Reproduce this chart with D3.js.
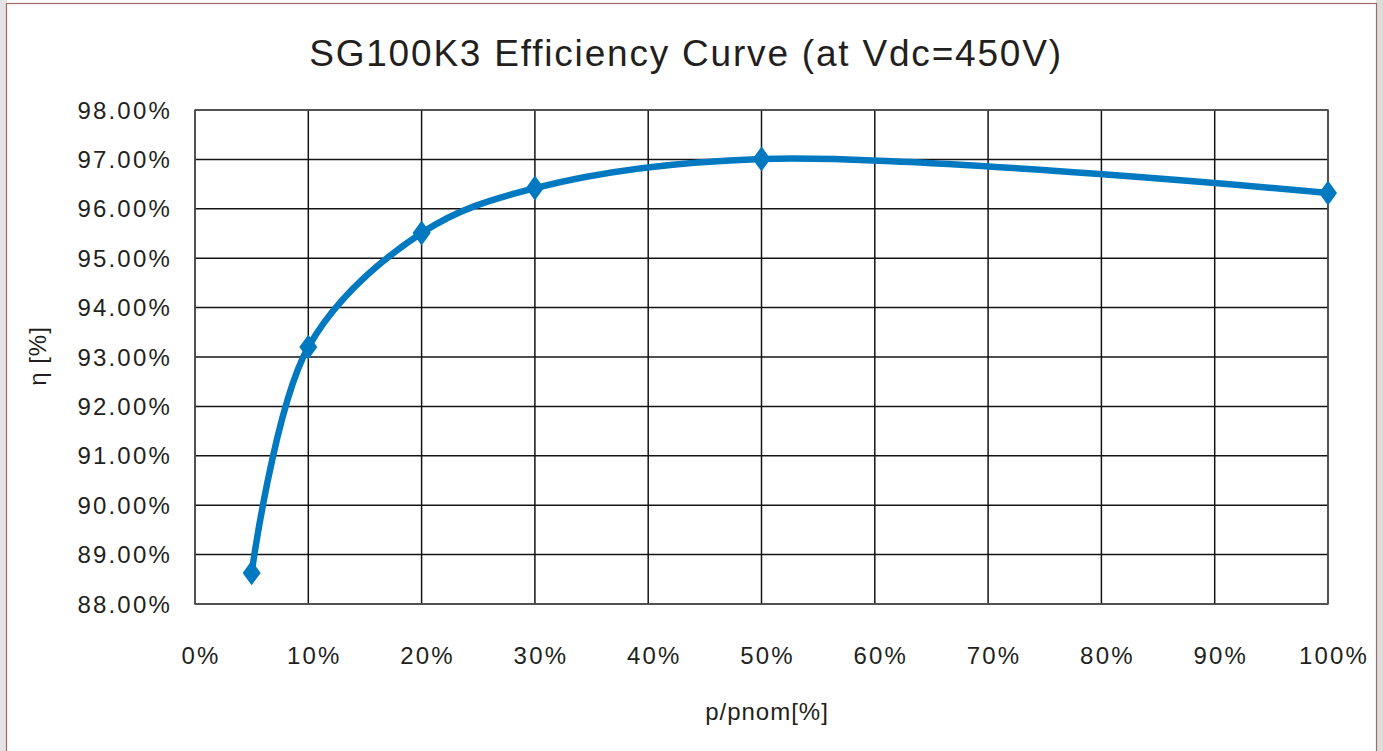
<!DOCTYPE html>
<html>
<head>
<script src="https://d3js.org/d3.v7.min.js"></script>
<style>
  body { margin: 0; background: #fff; }
  text { font-family: "Liberation Sans", Arial, sans-serif; fill: #231f20; }
</style>
</head>
<body>
<svg width="1383" height="751"></svg>
<script>
  // data
  var loads = [5, 10, 20, 30, 50, 100];
  var effs = [88.63, 93.2, 95.51, 96.42, 97.01, 96.32];
  var xTicks = [0, 10, 20, 30, 40, 50, 60, 70, 80, 90, 100];
  var yTicks = [88, 89, 90, 91, 92, 93, 94, 95, 96, 97, 98];

  var svg = d3.select("svg");

  // page frame with shadow
  svg.append("rect").attr("x", 0).attr("y", 0).attr("width", 7).attr("height", 751).attr("fill", "#e4e4e4");
  svg.append("rect").attr("x", 1376).attr("y", 0).attr("width", 7).attr("height", 751).attr("fill", "#dcdcdc");
  svg.append("rect").attr("x", 6.5).attr("y", 3.5).attr("width", 1370).attr("height", 800)
    .attr("fill", "#fff").attr("stroke", "#a06a68").attr("stroke-width", 1.2);

  var pLeft = 195, pTop = 110, pRight = 1328, pBottom = 604;
  var x = d3.scaleLinear().domain([0, 100]).range([pLeft, pRight]);
  var y = d3.scaleLinear().domain([88, 98]).range([pBottom, pTop]);

  // grid
  var grid = svg.append("g");
  grid.selectAll(".vg").data(xTicks).enter().append("line")
    .attr("x1", d => x(d)).attr("x2", d => x(d)).attr("y1", pTop).attr("y2", pBottom)
    .attr("stroke", "#141414").attr("stroke-width", 1.5);
  grid.selectAll(".hg").data(yTicks).enter().append("line")
    .attr("y1", d => y(d)).attr("y2", d => y(d)).attr("x1", pLeft).attr("x2", pRight)
    .attr("stroke", "#141414").attr("stroke-width", 1.5);
  grid.append("rect").attr("x", pLeft).attr("y", pTop).attr("width", pRight - pLeft).attr("height", pBottom - pTop)
    .attr("fill", "none").attr("stroke", "#555").attr("stroke-width", 1.4);

  // y tick labels
  svg.selectAll(".yl").data(yTicks).enter().append("text")
    .attr("x", 172).attr("y", d => y(d) + 8.5)
    .attr("text-anchor", "end").attr("font-size", 24).attr("letter-spacing", "2.2px")
    .text(d => d.toFixed(2) + "%");

  // x tick labels
  svg.selectAll(".xl").data(xTicks).enter().append("text")
    .attr("x", d => x(d) + 6).attr("y", 664)
    .attr("text-anchor", "middle").attr("font-size", 24).attr("letter-spacing", "2.2px")
    .text(d => d + "%");

  // titles
  svg.append("text").attr("x", 686).attr("y", 66).attr("text-anchor", "middle")
    .attr("font-size", 37).attr("letter-spacing", "1.8px")
    .text("SG100K3 Efficiency Curve (at Vdc=450V)");
  svg.append("text").attr("x", 767).attr("y", 720).attr("text-anchor", "middle")
    .attr("font-size", 24).attr("letter-spacing", "1px").text("p/pnom[%]");
  svg.append("text").attr("transform", "translate(46,356) rotate(-90)").attr("text-anchor", "middle")
    .attr("font-size", 24).attr("letter-spacing", "1px").text("η [%]");

  // curve
  var pts = loads.map((d, i) => [d, effs[i]]);
  var line = d3.line().x(d => x(d[0])).y(d => y(d[1])).curve(d3.curveCatmullRom.alpha(0.5));
  svg.append("path").datum(pts).attr("d", line)
    .attr("fill", "none").attr("stroke", "#0079c1").attr("stroke-width", 6.5);

  svg.selectAll(".mk").data(pts).enter().append("path")
    .attr("d", d3.symbol().type(d3.symbolDiamond).size(180))
    .attr("transform", d => "translate(" + x(d[0]) + "," + y(d[1]) + ") scale(1.25,1)")
    .attr("fill", "#0079c1");
</script>
</body>
</html>
